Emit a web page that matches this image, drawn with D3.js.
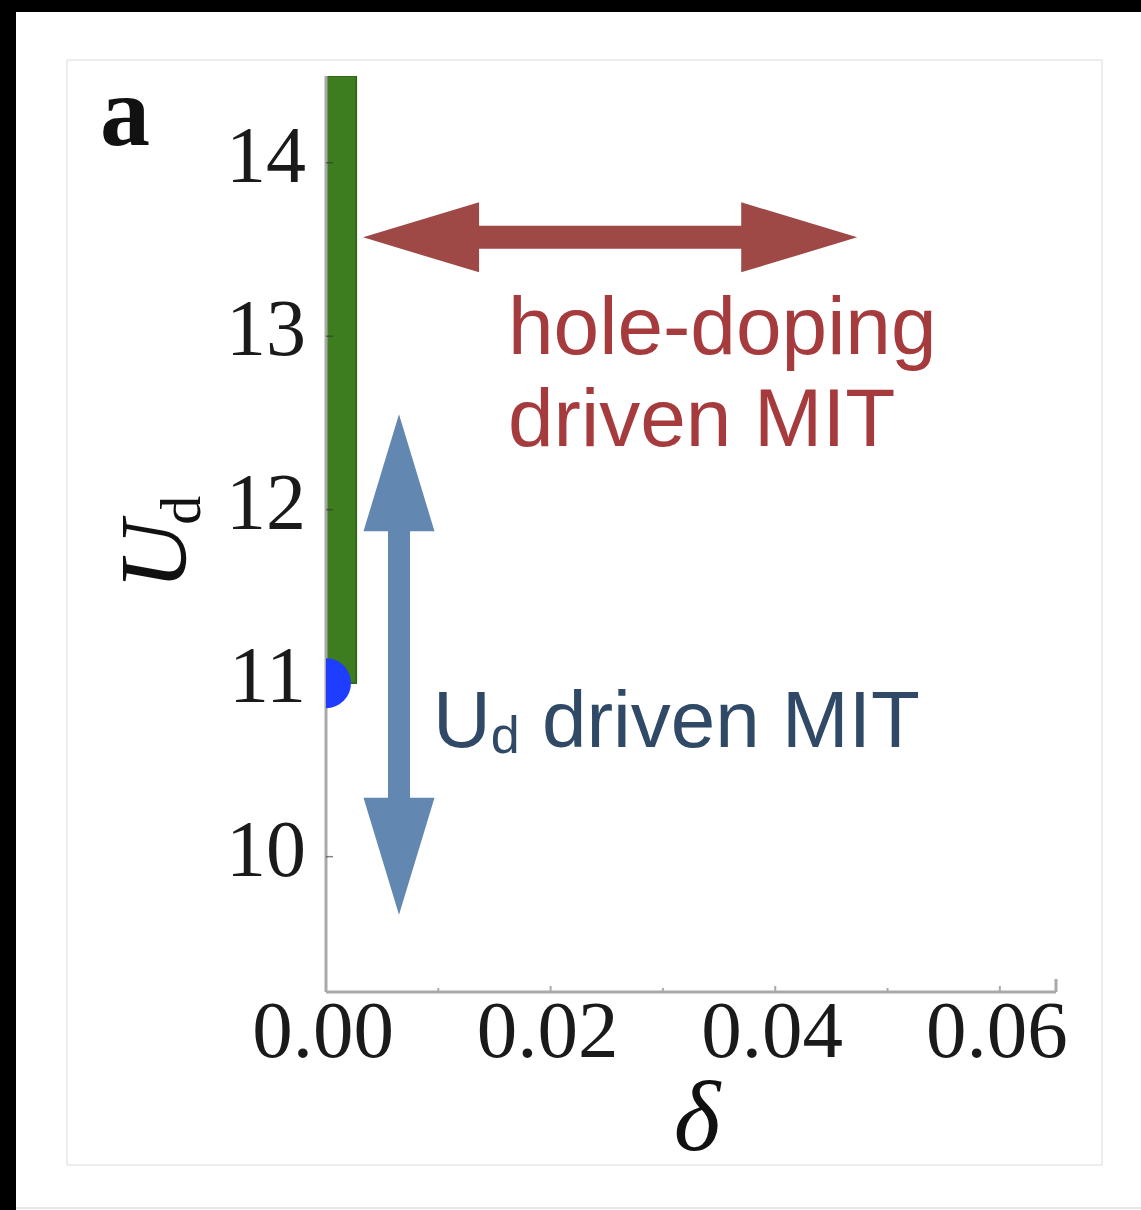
<!DOCTYPE html>
<html>
<head>
<meta charset="utf-8">
<script src="https://cdn.jsdelivr.net/npm/d3@7"></script>
<style>
  html, body { margin: 0; padding: 0; background: #fff; }
  svg { display: block; }
</style>
</head>
<body>
<svg id="canvas" width="1141" height="1210"></svg>
<script>
const W = 1141, H = 1210;
const svg = d3.select("#canvas");

// data
const xTicks = [0, 0.02, 0.04, 0.06];
const xMinor = [0.01, 0.03, 0.05];
const yTicks = [10, 11, 12, 13, 14];
const xDomain = [0, 0.065];
const yDomain = [9.22, 14.5];
// metallic region (green): delta range, U range
const metalRegion = [{d0: 0, d1: 0.0027, u0: 11, u1: 14.5}];
// critical point (blue)
const critPoints = [{d: 0, u: 11}];
// annotation arrows in data coordinates
const holeArrow = {d0: 0.0033, d1: 0.0473, u: 13.57};
const udArrow = {d: 0.0065, u0: 12.55, u1: 9.665};

// scales
const x = d3.scaleLinear().domain(xDomain).range([326, 1056]);
const y = d3.scaleLinear().domain(yDomain).range([992, 76]);

// black frame (top + left shadow)
svg.append("rect").attr("x", 0).attr("y", 0).attr("width", W).attr("height", 12).attr("fill", "#000");
svg.append("rect").attr("x", 0).attr("y", 0).attr("width", 16).attr("height", H).attr("fill", "#000");
svg.append("line").attr("x1", 16).attr("x2", W).attr("y1", 1208).attr("y2", 1208)
  .attr("stroke", "#e0e0e0").attr("stroke-width", 1.5);

// light panel border
svg.append("rect").attr("x", 67).attr("y", 60).attr("width", 1035).attr("height", 1105)
  .attr("fill", "none").attr("stroke", "#e2e2e2").attr("stroke-width", 1.2);

// clip for plot area
svg.append("clipPath").attr("id", "plotClip")
  .append("rect").attr("x", x(0)).attr("y", y(yDomain[1])).attr("width", x(xDomain[1]) - x(0))
  .attr("height", y(yDomain[0]) - y(yDomain[1]));

// axes
const axisColor = "#a9a9a9";
const axG = svg.append("g");
axG.append("line").attr("x1", x(0)).attr("x2", x(xDomain[1])).attr("y1", y(yDomain[0])).attr("y2", y(yDomain[0]))
  .attr("stroke", axisColor).attr("stroke-width", 3);
axG.append("line").attr("x1", x(0)).attr("x2", x(0)).attr("y1", y(yDomain[0])).attr("y2", y(yDomain[1]))
  .attr("stroke", axisColor).attr("stroke-width", 3);
axG.append("line").attr("x1", x(xDomain[1])).attr("x2", x(xDomain[1])).attr("y1", y(yDomain[0]) - 13).attr("y2", y(yDomain[0]))
  .attr("stroke", axisColor).attr("stroke-width", 3);
axG.selectAll(".xt").data(xTicks.concat(xMinor)).enter().append("line")
  .attr("x1", d => x(d)).attr("x2", d => x(d))
  .attr("y1", y(yDomain[0])).attr("y2", d => y(yDomain[0]) - (xTicks.includes(d) ? 6 : 4))
  .attr("stroke", axisColor).attr("stroke-width", 2);

// green region
svg.append("g").attr("clip-path", "url(#plotClip)").selectAll("rect").data(metalRegion).enter().append("rect")
  .attr("x", d => x(d.d0)).attr("y", d => y(d.u1))
  .attr("width", d => x(d.d1) - x(d.d0)).attr("height", d => y(d.u0) - y(d.u1))
  .attr("fill", "#3e7d1f").attr("stroke", "#2e6015").attr("stroke-width", 1.5);

// y ticks (inward, drawn over region)
axG.raise();
svg.selectAll(".yt").data(yTicks).enter().append("line")
  .attr("x1", x(0)).attr("x2", x(0) + 7).attr("y1", d => y(d)).attr("y2", d => y(d))
  .attr("stroke", "#333").attr("stroke-width", 1.5).attr("opacity", 0.6);

// critical point
svg.append("g").attr("clip-path", "url(#plotClip)").selectAll("circle").data(critPoints).enter().append("circle")
  .attr("cx", d => x(d.d)).attr("cy", d => y(d.u)).attr("r", 25)
  .attr("fill", "#1f3dff");

// tick labels
const serif = "'Liberation Serif', 'DejaVu Serif', serif";
svg.selectAll(".xl").data(xTicks).enter().append("text")
  .attr("x", d => x(d) - 3).attr("y", 1057).attr("text-anchor", "middle")
  .attr("font-family", serif).attr("font-size", 81).attr("fill", "#1a1a1a")
  .text(d => d3.format(".2f")(d));
svg.selectAll(".yl").data(yTicks).enter().append("text")
  .attr("x", 306).attr("y", d => y(d) + 19).attr("text-anchor", "end")
  .attr("font-family", serif).attr("font-size", 80).attr("fill", "#1a1a1a")
  .text(d => d);

// axis titles
svg.append("text").attr("x", 697).attr("y", 1150).attr("text-anchor", "middle")
  .attr("font-family", serif).attr("font-style", "italic").attr("font-size", 100).attr("fill", "#111")
  .text("δ");
const yt = svg.append("text").attr("transform", "translate(186,590) rotate(-90)")
  .attr("font-family", serif).attr("font-size", 96).attr("fill", "#111");
yt.append("tspan").attr("font-style", "italic").text("U");
yt.append("tspan").attr("font-size", 58).attr("dy", 14).attr("dx", -4).text("d");

// panel letter
svg.append("text").attr("x", 100).attr("y", 145)
  .attr("font-family", serif).attr("font-weight", "bold").attr("font-size", 100).attr("fill", "#111")
  .text("a");

// arrows
function hArrow(x0, x1, yc, shaft, headW, headL, color) {
  const p = [
    [x0, yc], [x0 + headL, yc - headW / 2], [x0 + headL, yc - shaft / 2],
    [x1 - headL, yc - shaft / 2], [x1 - headL, yc - headW / 2], [x1, yc],
    [x1 - headL, yc + headW / 2], [x1 - headL, yc + shaft / 2],
    [x0 + headL, yc + shaft / 2], [x0 + headL, yc + headW / 2]
  ];
  svg.append("path").attr("d", d3.line()(p) + "Z").attr("fill", color);
}
function vArrow(xc, y0, y1, shaft, headW, headL, color) {
  const p = [
    [xc, y0], [xc + headW / 2, y0 + headL], [xc + shaft / 2, y0 + headL],
    [xc + shaft / 2, y1 - headL], [xc + headW / 2, y1 - headL], [xc, y1],
    [xc - headW / 2, y1 - headL], [xc - shaft / 2, y1 - headL],
    [xc - shaft / 2, y0 + headL], [xc - headW / 2, y0 + headL]
  ];
  svg.append("path").attr("d", d3.line()(p) + "Z").attr("fill", color);
}
hArrow(x(holeArrow.d0), x(holeArrow.d1), y(holeArrow.u), 23, 70, 116, "#9f4946");
vArrow(x(udArrow.d), y(udArrow.u0), y(udArrow.u1), 22, 71, 117, "#6287b0");

// annotation text
const sans = "'Liberation Sans', Arial, Helvetica, sans-serif";
svg.append("text").attr("x", 508).attr("y", 354)
  .attr("font-family", sans).attr("font-size", 82).attr("fill", "#a53b3d")
  .text("hole-doping");
svg.append("text").attr("x", 508).attr("y", 446)
  .attr("font-family", sans).attr("font-size", 82).attr("fill", "#a53b3d")
  .text("driven MIT");
const ud = svg.append("text").attr("x", 433).attr("y", 747)
  .attr("font-family", sans).attr("font-size", 80).attr("fill", "#2f4966");
ud.append("tspan").text("U");
ud.append("tspan").attr("font-size", 52).attr("dy", 6).text("d");
ud.append("tspan").attr("dy", -6).text(" driven MIT");
</script>
</body>
</html>
